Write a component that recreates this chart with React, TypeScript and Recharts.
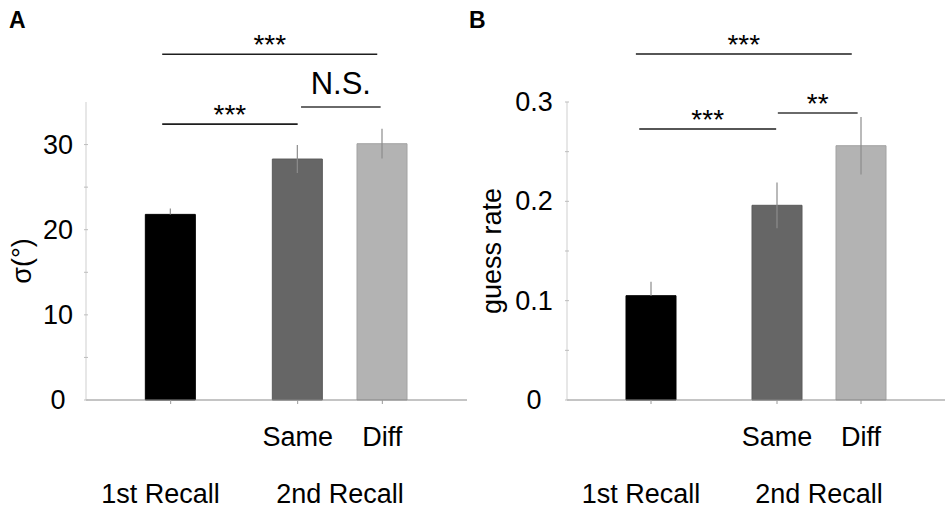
import { ComposedChart, Bar, XAxis, YAxis, ErrorBar, Cell, ReferenceLine } from 'recharts';

const FONT = '"Liberation Sans", Arial, Helvetica, sans-serif';

// bar positions on a numeric x axis (gap between 1st and 2nd recall)
const positions = [1, 2.5, 3.5];
const conditionLabels = ['', 'Same', 'Diff'];
const groupPositions = [0.88, 3];
const groupLabels = ['1st Recall', '2nd Recall'];
const barColors = ['#000000', '#666666', '#b3b3b3'];
const barEdges = ['#000000', '#5a5a5a', '#a2a2a2'];

// panel A: sigma in degrees
const sigmaValues = [21.8, 28.3, 30.1];
const sigmaErrors = [[0, 0.7], [1.65, 1.65], [1.75, 1.75]];
const sigmaTicks = [0, 5, 10, 15, 20, 25, 30];
const sigmaLabelTicks = [0, 10, 20, 30];
const sigmaBrackets = [
  { x1: 0.9, x2: 3.44, y: 40.6, label: '***', dark: true },
  { x1: 0.9, x2: 2.5, y: 32.4, label: '***', dark: true },
  { x1: 2.54, x2: 3.48, y: 34.4, label: 'N.S.', dark: false },
];

// panel B: guess rate
const guessValues = [0.105, 0.196, 0.256];
const guessErrors = [[0, 0.014], [0.023, 0.023], [0.029, 0.029]];
const guessTicks = [0, 0.05, 0.1, 0.15, 0.2, 0.25, 0.3];
const guessLabelTicks = [0, 0.1, 0.2, 0.3];
const guessBrackets = [
  { x1: 0.82, x2: 3.39, y: 0.3483, label: '***', dark: true },
  { x1: 0.86, x2: 2.49, y: 0.2728, label: '***', dark: true },
  { x1: 2.51, x2: 3.46, y: 0.2889, label: '**', dark: false },
];

function buildRows(values: number[], errors: number[][]) {
  return positions.map((x, i) => ({ x, value: values[i], err: errors[i] }));
}

function Panel({ values, errors, ticks, labelTicks, domainMax, brackets, yLabel, yAxisWidth, rightMargin, labelX, labelShift, tickLabelGap }: any) {
  const data = buildRows(values, errors);

  const yTick = ({ x, y, payload }: any) => {
    const v = payload.value;
    const show = labelTicks.some((t: number) => Math.abs(t - v) < 1e-9);
    return (
      <g>
        <line x1={x - 2} x2={x + 2} y1={y} y2={y} stroke="#bdbdbd" />
        {show && (
          <text x={x - tickLabelGap} y={y} textAnchor="middle" dominantBaseline="central" fontSize={27} fill="#000" fontFamily={FONT}>
            {String(v)}
          </text>
        )}
      </g>
    );
  };

  const condTick = ({ x, y, payload }: any) => {
    const i = positions.indexOf(payload.value);
    return (
      <g>
        <line x1={x} x2={x} y1={y} y2={y + 4} stroke="#9a9a9a" />
        <text x={x} y={y + 46} textAnchor="middle" fontSize={27} fill="#000" fontFamily={FONT}>
          {conditionLabels[i]}
        </text>
      </g>
    );
  };

  const groupTick = ({ x, y, payload }: any) => {
    const i = groupPositions.indexOf(payload.value);
    return (
      <text x={x} y={y + 53} textAnchor="middle" fontSize={27} fill="#000" fontFamily={FONT}>
        {groupLabels[i]}
      </text>
    );
  };

  const yLabelContent = ({ viewBox }: any) => {
    const cy = viewBox.y + viewBox.height / 2 + labelShift;
    return (
      <text x={labelX} y={cy} transform={`rotate(-90 ${labelX} ${cy})`} textAnchor="middle" dominantBaseline="central" fontSize={27} fill="#000" fontFamily={FONT}>
        {yLabel}
      </text>
    );
  };

  return (
    <ComposedChart width={475} height={509} data={data} margin={{ top: 102, right: rightMargin, left: 0, bottom: 0 }}>
      <XAxis
        xAxisId="cond"
        dataKey="x"
        type="number"
        domain={[0, 4.5]}
        ticks={positions}
        interval={0}
        tickSize={0}
        tickMargin={0}
        height={50}
        axisLine={{ stroke: '#8a8a8a' }}
        tick={condTick}
      />
      <XAxis
        xAxisId="grp"
        dataKey="x"
        type="number"
        domain={[0, 4.5]}
        ticks={groupPositions}
        interval={0}
        tickSize={0}
        tickMargin={0}
        height={59}
        axisLine={false}
        tickLine={false}
        tick={groupTick}
      />
      <YAxis
        type="number"
        domain={[0, domainMax]}
        ticks={ticks}
        interval={0}
        tickSize={0}
        tickMargin={0}
        width={yAxisWidth}
        axisLine={{ stroke: '#cfcfcf' }}
        tick={yTick}
        label={yLabelContent}
      />
      <Bar xAxisId="cond" dataKey="value" barSize={50} isAnimationActive={false}>
        {data.map((_, i) => (
          <Cell key={i} fill={barColors[i]} stroke={barEdges[i]} strokeWidth={1} />
        ))}
        <ErrorBar dataKey="err" width={0} stroke="#8c8c8c" strokeWidth={1.2} />
      </Bar>
      {brackets.map((b: any, i: number) => (
        <ReferenceLine
          key={i}
          xAxisId="cond"
          segment={[{ x: b.x1, y: b.y }, { x: b.x2, y: b.y }]}
          stroke={b.dark ? '#1e1e1e' : '#6a6a6a'}
          strokeWidth={b.dark ? 1.6 : 2}
          ifOverflow="visible"
          label={{
            value: b.label,
            position: 'top',
            offset: b.label === 'N.S.' ? 13 : 0,
            fill: '#000',
            fontSize: b.label === 'N.S.' ? 31 : 28,
            fontFamily: FONT,
          }}
        />
      ))}
    </ComposedChart>
  );
}

export default function App() {
  return (
    <div style={{ position: 'absolute', left: 0, top: 0, width: 950, height: 509, background: '#fff', fontFamily: FONT }}>
      <div style={{ position: 'absolute', left: 0, top: 0 }}>
        <Panel
          values={sigmaValues}
          errors={sigmaErrors}
          ticks={sigmaTicks}
          labelTicks={sigmaLabelTicks}
          domainMax={35}
          brackets={sigmaBrackets}
          yLabel="σ(°)"
          yAxisWidth={86}
          rightMargin={8}
          labelX={22}
          labelShift={10}
          tickLabelGap={28}
        />
      </div>
      <div style={{ position: 'absolute', left: 475, top: 0 }}>
        <Panel
          values={guessValues}
          errors={guessErrors}
          ticks={guessTicks}
          labelTicks={guessLabelTicks}
          domainMax={0.3}
          brackets={guessBrackets}
          yLabel="guess rate"
          yAxisWidth={92}
          rightMargin={5}
          labelX={17}
          labelShift={0}
          tickLabelGap={33}
        />
      </div>
      <svg width={950} height={40} style={{ position: 'absolute', left: 0, top: 0 }}>
        <text x={9} y={28} fontSize={23} fontWeight="bold" fill="#000" fontFamily={FONT}>A</text>
        <text x={469} y={28} fontSize={23} fontWeight="bold" fill="#000" fontFamily={FONT}>B</text>
      </svg>
    </div>
  );
}
